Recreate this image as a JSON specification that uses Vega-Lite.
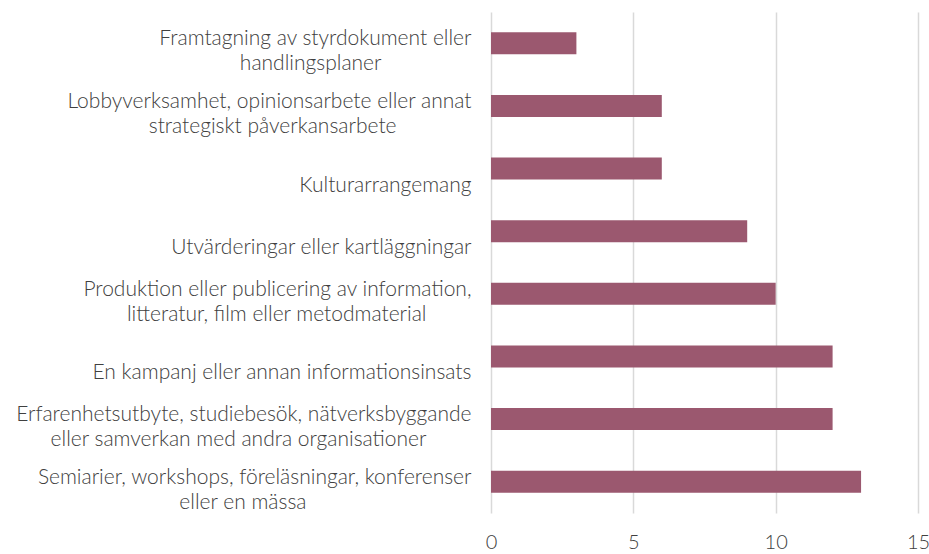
{
  "$schema": "https://vega.github.io/schema/vega-lite/v6.json",
  "autosize": "none",
  "width": 427,
  "height": 501,
  "padding": {"left": 491, "top": 12, "right": 11, "bottom": 41},
  "background": "white",
  "config": {"view": {"stroke": null}, "font": "Lato"},
  "data": {
    "values": [
      {"kategori": "Framtagning av styrdokument eller\nhandlingsplaner", "antal": 3},
      {"kategori": "Lobbyverksamhet, opinionsarbete eller annat\nstrategiskt påverkansarbete", "antal": 6},
      {"kategori": "Kulturarrangemang", "antal": 6},
      {"kategori": "Utvärderingar eller kartläggningar", "antal": 9},
      {"kategori": "Produktion eller publicering av information,\nlitteratur, film eller metodmaterial", "antal": 10},
      {"kategori": "En kampanj eller annan informationsinsats", "antal": 12},
      {"kategori": "Erfarenhetsutbyte, studiebesök, nätverksbyggande\neller samverkan med andra organisationer", "antal": 12},
      {"kategori": "Semiarier, workshops, föreläsningar, konferenser\neller en mässa", "antal": 13}
    ]
  },
  "mark": {"type": "bar", "color": "#9b586f"},
  "encoding": {
    "y": {
      "field": "kategori",
      "type": "nominal",
      "sort": null,
      "scale": {"paddingInner": 0.65, "paddingOuter": 0.325},
      "axis": {
        "title": null,
        "domain": false,
        "ticks": false,
        "labelPadding": 20,
        "labelLimit": 600,
        "labelFont": "Lato",
        "labelFontWeight": 300,
        "labelFontSize": 21,
        "labelColor": "#404040",
        "labelAlign": "right",
        "labelBaseline": "bottom",
        "labelOffset": {"condition": {"test": "indexof(datum.value, '\\n') >= 0", "value": 6}, "value": 27},
        "labelLineHeight": 25,
        "labelExpr": "length(split(datum.label, '\\n')) > 1 ? [split(datum.label, '\\n')[0], split(datum.label, '\\n')[1] + pad('', round((length(split(datum.label, '\\n')[0]) - length(split(datum.label, '\\n')[1])) * 0.32), '\u2800')] : datum.label"
      }
    },
    "x": {
      "field": "antal",
      "type": "quantitative",
      "scale": {"domain": [0, 15], "nice": false},
      "axis": {
        "title": null,
        "values": [0, 5, 10, 15],
        "domain": false,
        "ticks": false,
        "grid": true,
        "gridColor": "#d9d9d9",
        "gridWidth": 1.5,
        "labelPadding": 19,
        "labelFont": "Lato",
        "labelFontWeight": 300,
        "labelFontSize": 20,
        "labelColor": "#404040",
        "labelFlush": false
      }
    }
  }
}
